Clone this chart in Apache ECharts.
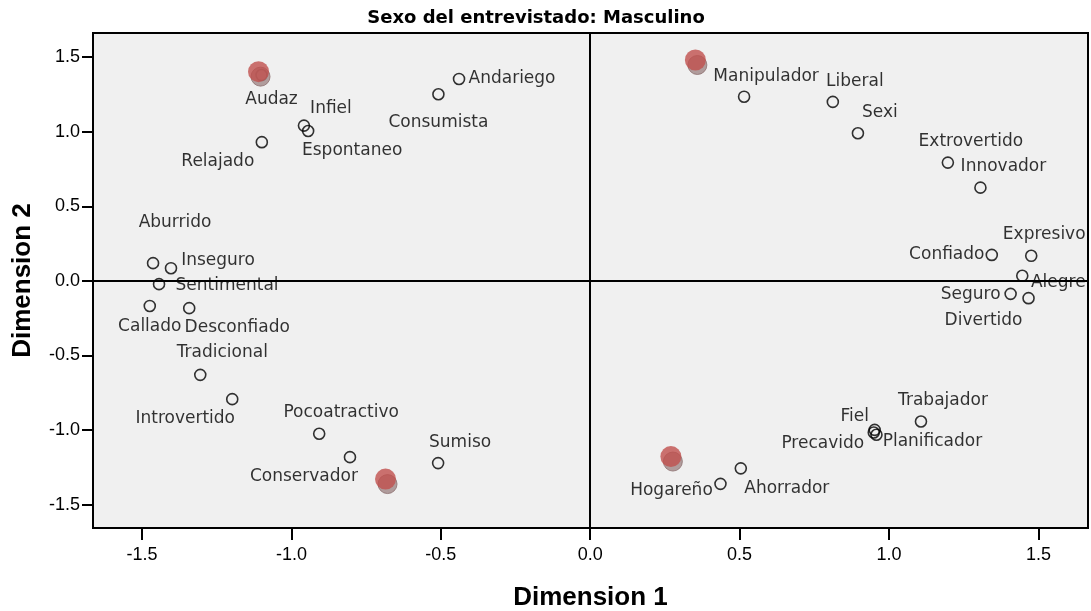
<!DOCTYPE html>
<html>
<head>
<meta charset="utf-8">
<script src="https://cdn.jsdelivr.net/npm/echarts@6/dist/echarts.min.js"></script>
<style>
  html, body { margin: 0; padding: 0; background: #fff; }
  #chart { width: 1091px; height: 611px; }
</style>
</head>
<body>
<div id="chart"></div>
<script>
// Category points of the joint plot (Dimension 1, Dimension 2)
const categories = [
  'Audaz', 'Infiel', 'Espontaneo', 'Relajado', 'Andariego', 'Consumista',
  'Aburrido', 'Inseguro', 'Sentimental', 'Callado', 'Desconfiado',
  'Tradicional', 'Introvertido', 'Pocoatractivo', 'Conservador', 'Sumiso',
  'Manipulador', 'Liberal', 'Sexi', 'Extrovertido', 'Innovador',
  'Expresivo', 'Confiado', 'Alegre', 'Seguro', 'Divertido',
  'Trabajador', 'Fiel', 'Precavido', 'Planificador', 'Ahorrador', 'Hogareño'
];
const dim1 = [
  -1.100, -0.958, -0.944, -1.099, -0.439, -0.508,
  -1.463, -1.403, -1.443, -1.474, -1.342,
  -1.305, -1.198, -0.907, -0.804, -0.509,
  0.515, 0.812, 0.896, 1.197, 1.306,
  1.476, 1.344, 1.446, 1.407, 1.467,
  1.107, 0.952, 0.949, 0.958, 0.504, 0.436
];
const dim2 = [
  1.380, 1.041, 1.005, 0.930, 1.354, 1.251,
  0.119, 0.085, -0.022, -0.168, -0.183,
  -0.630, -0.793, -1.025, -1.182, -1.222,
  1.235, 1.200, 0.990, 0.793, 0.625,
  0.168, 0.174, 0.034, -0.087, -0.116,
  -0.943, -0.999, -1.017, -1.032, -1.257, -1.361
];

// Group centroids (filled markers)
const centroidDim1 = [-1.110, 0.352, -0.685, 0.270];
const centroidDim2 = [1.403, 1.481, -1.329, -1.178];

const tickValues = [-1.5, -1.0, -0.5, 0.0, 0.5, 1.0, 1.5];
const chartTitle = 'Sexo del entrevistado: Masculino';
const xTitle = 'Dimension 1';
const yTitle = 'Dimension 2';

// Label placement (pixel offset of label centre from its point)
const labelOffsets = {
  'Audaz': [10, 25], 'Infiel': [27, -17], 'Espontaneo': [44, 20], 'Relajado': [-44, 19],
  'Andariego': [53, 0], 'Consumista': [0, 28], 'Aburrido': [22, -41], 'Inseguro': [47, -8],
  'Sentimental': [68, 1], 'Callado': [0, 21], 'Desconfiado': [48, 19], 'Tradicional': [22, -22],
  'Introvertido': [-47, 19], 'Pocoatractivo': [22, -21], 'Conservador': [-46, 19], 'Sumiso': [22, -21],
  'Manipulador': [22, -20], 'Liberal': [22, -20], 'Sexi': [22, -21], 'Extrovertido': [23, -21],
  'Innovador': [23, -21], 'Expresivo': [13, -21], 'Confiado': [-45, 0], 'Alegre': [36, 7],
  'Seguro': [-40, 1], 'Divertido': [-45, 22], 'Trabajador': [22, -21], 'Fiel': [-20, -13],
  'Precavido': [-51, 11], 'Planificador': [56, 7], 'Ahorrador': [46, 20], 'Hogareño': [-49, 7]
};

const pointData = categories.map((name, i) => ({
  name: name,
  value: [dim1[i], dim2[i]],
  label: { offset: labelOffsets[name] || [0, -18] }
}));
const centroidData = centroidDim1.map((x, i) => [x, centroidDim2[i]]);

const labelFont = 'DejaVu Sans';
const axisFont = 'Liberation Sans, Arial, sans-serif';

const chart = echarts.init(document.getElementById('chart'));
chart.setOption({
  animation: false,
  backgroundColor: '#ffffff',
  title: {
    text: chartTitle,
    left: 536,
    top: 9,
    textAlign: 'center',
    padding: 0,
    textStyle: { fontFamily: labelFont, fontWeight: 'bold', fontSize: 18, color: '#000' }
  },
  grid: {
    left: 93, right: 3, top: 33, bottom: 83,
    outerBoundsMode: 'none',
    containLabel: false,
    show: true,
    backgroundColor: '#f0f0f0',
    borderColor: '#000',
    borderWidth: 2
  },
  xAxis: {
    type: 'value',
    min: -1.664,
    max: 1.666,
    axisLine: { show: false, onZero: false },
    splitLine: { show: false },
    axisTick: { show: true, inside: false, length: 12, customValues: tickValues, lineStyle: { color: '#000', width: 2 } },
    axisLabel: {
      customValues: tickValues,
      formatter: v => v.toFixed(1),
      fontFamily: axisFont, fontSize: 18, color: '#000', margin: 18
    },
    name: xTitle,
    nameLocation: 'middle',
    nameGap: 57,
    nameTextStyle: { fontFamily: axisFont, fontSize: 26, fontWeight: 'bold', color: '#000' }
  },
  yAxis: {
    type: 'value',
    min: -1.657,
    max: 1.662,
    axisLine: { show: false, onZero: false },
    splitLine: { show: false },
    axisTick: { show: true, inside: false, length: 11, customValues: tickValues, lineStyle: { color: '#000', width: 2 } },
    axisLabel: {
      customValues: tickValues,
      formatter: v => v.toFixed(1),
      fontFamily: axisFont, fontSize: 18, color: '#000', margin: 13
    },
    name: yTitle,
    nameLocation: 'middle',
    nameGap: 57,
    nameTextStyle: { fontFamily: axisFont, fontSize: 26, fontWeight: 'bold', color: '#000' }
  },
  series: [
    {
      // category points with their names
      type: 'scatter',
      z: 3,
      data: pointData,
      symbol: 'circle',
      symbolSize: 11,
      itemStyle: { color: 'rgba(0,0,0,0)', borderColor: '#000', borderWidth: 1.6 },
      label: {
        show: true,
        position: 'inside',
        formatter: p => p.name,
        fontFamily: labelFont,
        fontSize: 17,
        color: '#000',
        textBorderWidth: 0,
        align: 'center',
        verticalAlign: 'middle'
      },
      emphasis: { disabled: true },
      markLine: {
        silent: true,
        symbol: ['none', 'none'],
        label: { show: false },
        lineStyle: { color: '#000', width: 2, type: 'solid' },
        data: [{ xAxis: 0 }, { yAxis: 0 }]
      }
    },
    {
      // base of the centroid markers
      type: 'scatter',
      z: 4,
      data: centroidData,
      symbol: 'circle',
      symbolSize: 19,
      symbolOffset: [2, 5],
      itemStyle: { color: '#a08787', borderColor: '#8c6f6f', borderWidth: 1 },
      emphasis: { disabled: true }
    },
    {
      // centroid markers
      type: 'scatter',
      z: 5,
      data: centroidData,
      symbol: 'circle',
      symbolSize: 21,
      itemStyle: { color: '#c0504d' },
      emphasis: { disabled: true }
    }
  ]
});
</script>
</body>
</html>
